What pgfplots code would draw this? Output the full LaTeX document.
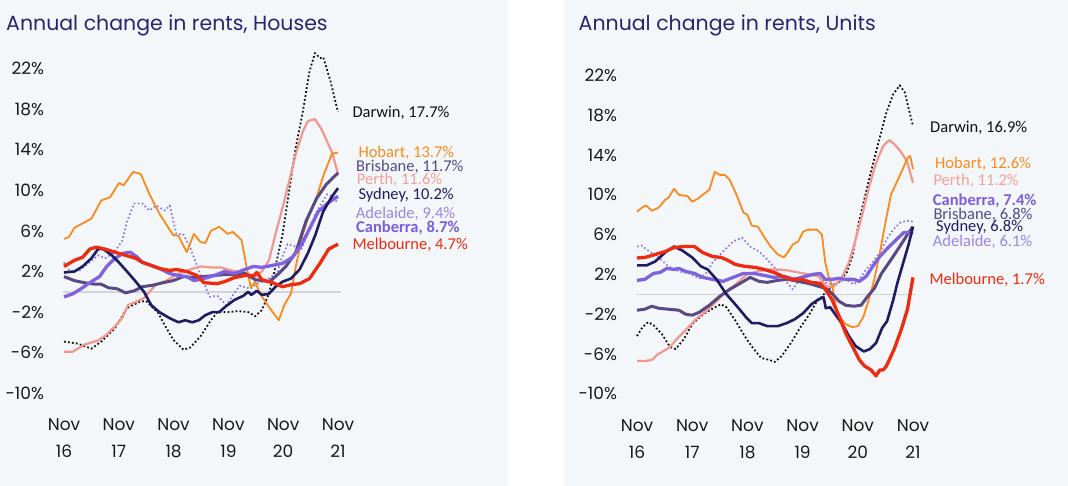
\documentclass[border=0pt]{standalone}
\usepackage{fontspec}
\setmainfont{Poppins}
\newfontfamily\lab{Carlito}
\usepackage{pgfplots}
\pgfplotsset{compat=1.18}

\definecolor{bg}{HTML}{F4F7F9}
\definecolor{titlec}{HTML}{2A2470}
\definecolor{syd}{HTML}{201C62}
\definecolor{mel}{HTML}{EE2A10}
\definecolor{bri}{HTML}{5A4A84}
\definecolor{ade}{HTML}{7F62DE}
\definecolor{can}{HTML}{8E78E8}
\definecolor{per}{HTML}{F2968E}
\definecolor{hob}{HTML}{FB8A1C}
\definecolor{dar}{HTML}{111111}
\definecolor{zero}{HTML}{D4D4D6}
\definecolor{adelab}{HTML}{9A86E8}
\definecolor{canlab}{HTML}{7B5EDC}
\definecolor{brilab}{HTML}{524C88}
\definecolor{perlab}{HTML}{F4A098}

\pgfplotsset{
  rent/.style={
    scale only axis, clip=false,
    xmin=0, xmax=5, ymin=-10, ymax=24,
    axis line style={draw=none},
    major tick style={draw=none},
    xtick={0,1,2,3,4,5},
    xticklabels={{Nov\\16},{Nov\\17},{Nov\\18},{Nov\\19},{Nov\\20},{Nov\\21}},
    ytick={-10,-6,-2,2,6,10,14,18,22},
    yticklabels={-10\%,-6\%,-2\%,2\%,6\%,10\%,14\%,18\%,22\%},
    ticklabel style={font=\fontsize{17}{27}\selectfont, text=black!90},
    xticklabel style={align=center, yshift=-22pt},
    yticklabel style={xshift=-16.5pt},
    every axis plot/.append style={line join=round, mark=none},
  },
  zeroline/.style={zero, line width=1.5pt},
  sydl/.style={syd, line width=2.6pt},
  mell/.style={mel, line width=3.3pt},
  bril/.style={bri, line width=3pt},
  adel/.style={ade, line width=3.3pt},
  canl/.style={can, line width=1.8pt, dash pattern=on 1.6pt off 2.4pt},
  perl/.style={per, line width=2.2pt},
  hobl/.style={hob, line width=1.8pt},
  darl/.style={dar, line width=1.8pt, dash pattern=on 1.8pt off 2.2pt},
}

\begin{document}
\begin{tikzpicture}[x=1pt,y=1pt]
\useasboundingbox (0pt,0pt) rectangle (1068pt,486pt);
\fill[white] (0pt,0pt) rectangle (1068pt,486pt);
\fill[bg] (0pt,0pt) rectangle (508pt,486pt);
\fill[bg] (564pt,0pt) rectangle (1068pt,486pt);

\node[anchor=base west, inner sep=0, font=\fontsize{20.5}{24}\selectfont, text=titlec]
  at (6pt,455.3pt) {Annual change in rents, Houses};
\node[anchor=base west, inner sep=0, font=\fontsize{20.5}{24}\selectfont, text=titlec]
  at (578.5pt,455.3pt) {Annual change in rents, Units};

% ---------------- Houses ----------------
\begin{axis}[rent, at={(64pt,92.6pt)}, anchor=south west, width=274pt, height=345.4pt]
\addplot[zeroline] coordinates {(-0.02,0) (5.05,0)};
% Darwin
\addplot[darl] coordinates {(0,-4.9)(0.25,-5.1)(0.5,-5.6)(0.68,-4.9)(0.93,-3.6)(1.15,-1.6)(1.37,-1.0)(1.5,-0.9)(1.72,-2.1)(1.85,-3.4)(1.99,-4.7)(2.18,-5.7)(2.30,-5.5)(2.49,-4.4)(2.68,-2.8)(2.80,-2.0)(2.99,-2.0)(3.18,-1.9)(3.36,-2.0)(3.49,-2.4)(3.61,-1.8)(3.74,-0.2)(3.86,2.5)(3.99,5.7)(4.11,10.0)(4.23,14.2)(4.36,17.8)(4.48,21.7)(4.58,23.5)(4.67,23.0)(4.73,23.1)(4.86,20.8)(5.0,17.7)};
% Canberra
\addplot[canl] coordinates {(0,2.9)(0.06,2.3)(0.12,2.0)(0.28,2.1)(0.45,2.8)(0.62,3.6)(0.75,3.3)(0.9,3.8)(1.06,5.0)(1.15,6.9)(1.28,8.7)(1.43,8.7)(1.56,8.0)(1.68,8.5)(1.84,8.0)(1.93,8.5)(2.05,5.7)(2.17,5.7)(2.3,4.4)(2.48,1.8)(2.66,-0.5)(2.8,-0.4)(2.96,-1.3)(3.1,-0.2)(3.21,0.6)(3.40,0.3)(3.53,0.8)(3.70,1.2)(3.90,1.9)(3.95,3.0)(4.08,4.7)(4.20,4.5)(4.33,4.2)(4.46,5.8)(4.60,7.8)(4.80,9.6)(4.90,9.4)(5.0,8.7)};
% Perth
\addplot[perl] coordinates {(0,-5.9)(0.16,-5.9)(0.37,-5.2)(0.62,-4.8)(0.78,-4.2)(0.93,-3.4)(1.06,-2.6)(1.17,-1.3)(1.31,-1.0)(1.46,-0.6)(1.56,0)(1.68,0.7)(1.87,1.1)(2.05,1.7)(2.30,2.2)(2.49,2.5)(2.68,2.4)(2.86,2.4)(3.05,2.1)(3.30,1.9)(3.49,1.5)(3.61,2.0)(3.74,3.1)(3.86,5.7)(3.99,8.3)(4.11,10.9)(4.23,13.6)(4.36,15.8)(4.45,16.8)(4.58,17.0)(4.70,16.0)(4.80,14.8)(4.90,13.6)(5.0,11.6)};
% Hobart
\addplot[hobl] coordinates {(0,5.2)(0.09,5.4)(0.19,6.3)(0.5,7.2)(0.68,9.0)(0.84,9.3)(1.0,10.7)(1.09,10.5)(1.26,11.8)(1.4,11.6)(1.56,9.6)(1.74,7.7)(1.99,5.6)(2.09,5.5)(2.24,3.9)(2.37,5.7)(2.49,4.9)(2.58,4.8)(2.68,6.0)(2.83,6.4)(2.99,5.7)(3.08,5.9)(3.24,5.1)(3.33,2.5)(3.41,0.4)(3.49,1.0)(3.58,-0.2)(3.74,-1.5)(3.92,-2.8)(4.02,-1.3)(4.14,-0.2)(4.23,2.5)(4.36,5.7)(4.48,7.7)(4.61,9.3)(4.73,11.4)(4.89,13.6)(5.0,13.7)};
% Brisbane
\addplot[bril] coordinates {(0,1.5)(0.19,1.1)(0.37,0.9)(0.56,0.75)(0.68,0.75)(0.81,0.4)(0.97,0.3)(1.12,-0.1)(1.28,0.1)(1.43,0.5)(1.62,0.65)(1.81,0.9)(1.99,1.1)(2.18,1.5)(2.37,1.4)(2.55,1.5)(2.74,1.6)(2.93,1.7)(3.11,1.7)(3.30,1.8)(3.49,1.2)(3.61,1.1)(3.74,1.0)(3.86,1.5)(4.05,2.5)(4.23,3.9)(4.42,7.0)(4.61,9.2)(4.79,10.6)(5.0,11.7)};
% Adelaide
\addplot[adel] coordinates {(0,-0.5)(0.16,-0.2)(0.31,0.3)(0.5,1.0)(0.65,1.5)(0.78,2.5)(0.93,3.3)(1.09,3.8)(1.21,3.9)(1.34,3.4)(1.43,2.9)(1.59,2.6)(1.74,2.3)(1.93,1.8)(2.09,1.6)(2.24,1.5)(2.37,1.1)(2.55,1.3)(2.74,1.6)(2.93,2.0)(3.11,1.8)(3.30,2.2)(3.46,2.5)(3.61,2.4)(3.80,2.6)(3.99,2.8)(4.17,3.4)(4.33,4.6)(4.48,6.2)(4.64,7.9)(4.83,8.8)(5.0,9.4)};
% Sydney
\addplot[sydl] coordinates {(0,1.9)(0.19,2.0)(0.34,2.5)(0.5,3.3)(0.62,4.2)(0.72,4.2)(0.87,3.6)(1.0,2.9)(1.15,2.0)(1.31,1.0)(1.46,0)(1.59,-1.3)(1.74,-2.0)(1.93,-2.6)(2.09,-3.0)(2.21,-2.8)(2.34,-3.0)(2.46,-2.8)(2.58,-2.3)(2.71,-2.0)(2.83,-2.0)(2.96,-1.4)(3.11,-0.8)(3.27,-0.4)(3.36,0)(3.42,-0.3)(3.52,0.1)(3.61,-0.3)(3.74,-0.2)(3.86,0.5)(3.99,1.0)(4.14,1.3)(4.30,2.2)(4.45,3.8)(4.58,5.5)(4.73,7.9)(4.88,9.3)(5.0,10.2)};
% Melbourne
\addplot[mell] coordinates {(0,2.5)(0.19,3.1)(0.34,3.4)(0.47,4.2)(0.59,4.4)(0.75,4.2)(0.93,3.9)(1.12,3.6)(1.31,3.3)(1.43,2.9)(1.59,2.6)(1.74,2.3)(1.93,2.1)(2.05,2.2)(2.24,2.0)(2.43,1.6)(2.55,0.9)(2.80,0.8)(2.93,1.0)(3.11,1.4)(3.30,1.6)(3.46,1.6)(3.52,1.9)(3.61,1.2)(3.80,0.9)(3.99,0.5)(4.14,0.7)(4.30,0.8)(4.48,1.3)(4.67,2.8)(4.83,4.2)(5.0,4.7)};
\end{axis}

% ---------------- Units ----------------
\begin{axis}[rent, at={(637pt,92.2pt)}, anchor=south west, width=276pt, height=338.3pt]
\addplot[zeroline] coordinates {(-0.02,0) (5.05,0)};
% Darwin
\addplot[darl] coordinates {(0,-4.2)(0.1,-3.3)(0.2,-2.8)(0.3,-3.1)(0.45,-4.0)(0.6,-5.3)(0.7,-5.5)(0.85,-4.5)(1.0,-3.0)(1.2,-2.0)(1.35,-1.5)(1.52,-1.0)(1.62,-1.3)(1.8,-2.8)(1.95,-4.2)(2.1,-5.4)(2.25,-6.4)(2.4,-6.6)(2.5,-6.8)(2.62,-6.2)(2.8,-4.8)(2.95,-3.4)(3.1,-2.2)(3.25,-0.8)(3.45,0.4)(3.65,1.2)(3.8,2.2)(3.9,3.8)(4.03,7.5)(4.15,10.3)(4.27,13.0)(4.40,15.8)(4.52,18.3)(4.64,20.1)(4.76,21.0)(4.85,20.3)(5.0,16.9)};
% Canberra
\addplot[canl] coordinates {(0,4.8)(0.08,4.9)(0.23,4.3)(0.39,3.7)(0.57,2.8)(0.76,2.3)(0.94,2.1)(1.13,1.6)(1.25,2.1)(1.37,3.2)(1.56,4.3)(1.74,5.3)(1.90,5.7)(2.05,4.8)(2.21,4.3)(2.36,3.5)(2.52,2.5)(2.67,1.5)(2.82,0.5)(2.95,1.5)(3.10,1.8)(3.26,2.1)(3.35,1.5)(3.44,1.1)(3.53,1.0)(3.66,1.2)(3.78,1.5)(3.93,1.0)(4.03,1.5)(4.15,2.5)(4.27,3.2)(4.40,4.2)(4.52,5.5)(4.64,6.5)(4.77,7.2)(4.89,7.4)(5.0,7.3)};
% Perth
\addplot[perl] coordinates {(0,-6.7)(0.14,-6.7)(0.27,-6.6)(0.36,-6.1)(0.51,-5.6)(0.6,-5.3)(0.70,-4.6)(0.88,-3.6)(1.07,-2.5)(1.25,-1.7)(1.44,-0.7)(1.62,0.3)(1.81,1.1)(1.99,2.0)(2.18,2.3)(2.36,2.5)(2.55,2.5)(2.73,2.4)(2.92,2.2)(3.10,2.0)(3.29,1.8)(3.41,0.9)(3.50,0.7)(3.59,0.9)(3.72,1.8)(3.84,3.2)(3.96,5.5)(4.09,8.2)(4.21,10.9)(4.33,13.2)(4.46,14.9)(4.57,15.5)(4.66,15.1)(4.77,14.4)(4.89,13.4)(5.0,11.2)};
% Hobart
\addplot[hobl] coordinates {(0,8.3)(0.11,8.8)(0.17,8.9)(0.27,8.4)(0.39,8.7)(0.51,9.5)(0.57,9.7)(0.67,10.6)(0.76,10.0)(0.85,9.9)(0.91,9.9)(1.0,9.3)(1.10,9.6)(1.19,10.0)(1.31,10.5)(1.41,12.3)(1.50,12.0)(1.59,12.0)(1.68,11.5)(1.81,9.9)(1.93,8.2)(2.0,8.0)(2.08,6.9)(2.19,6.8)(2.30,5.8)(2.42,4.8)(2.55,4.0)(2.66,3.7)(2.73,4.2)(2.82,5.0)(2.92,5.3)(3.01,6.3)(3.10,6.5)(3.26,6.5)(3.35,6.0)(3.41,3.2)(3.47,1.8)(3.54,0.8)(3.60,-1.2)(3.66,-2.2)(3.78,-3.0)(3.90,-3.3)(4.0,-3.2)(4.1,-2.3)(4.2,-0.5)(4.3,1.5)(4.4,4.2)(4.5,7.2)(4.6,10.0)(4.7,11.2)(4.8,12.4)(4.9,13.7)(4.95,13.9)(5.0,12.6)};
% Brisbane
\addplot[bril] coordinates {(0,-1.6)(0.14,-1.5)(0.27,-1.2)(0.39,-1.4)(0.57,-1.5)(0.76,-1.6)(0.88,-2.0)(1.0,-2.1)(1.13,-1.8)(1.31,-1.1)(1.5,-0.2)(1.68,0.5)(1.87,1.1)(2.05,1.7)(2.21,1.3)(2.36,1.2)(2.55,1.4)(2.73,1.5)(2.92,1.3)(3.10,1.1)(3.29,0.8)(3.41,0.6)(3.53,0.1)(3.66,-0.7)(3.78,-1.1)(3.93,-1.2)(4.06,-1.1)(4.18,-0.2)(4.30,0.6)(4.43,2.1)(4.58,3.3)(4.70,4.3)(4.83,5.4)(4.92,6.2)(5.0,6.8)};
% Adelaide
\addplot[adel] coordinates {(0,1.4)(0.14,1.5)(0.30,2.1)(0.42,2.2)(0.54,2.6)(0.67,2.5)(0.76,2.6)(0.88,2.3)(1.04,2.1)(1.19,1.7)(1.37,1.5)(1.56,1.3)(1.74,1.7)(1.93,2.1)(2.11,2.1)(2.30,1.9)(2.48,1.7)(2.67,1.8)(2.85,1.5)(3.04,1.8)(3.19,2.0)(3.32,2.1)(3.41,1.5)(3.53,1.5)(3.66,1.6)(3.78,1.5)(3.93,1.5)(4.03,1.3)(4.15,1.8)(4.27,2.8)(4.40,3.8)(4.55,4.7)(4.70,5.5)(4.83,6.2)(4.92,6.2)(5.0,6.1)};
% Sydney
\addplot[sydl] coordinates {(0,2.9)(0.17,2.9)(0.33,3.3)(0.51,4.2)(0.67,4.8)(0.82,4.4)(1.0,3.7)(1.16,2.8)(1.28,2.5)(1.44,1.5)(1.62,0)(1.81,-1.2)(1.99,-2.4)(2.08,-2.9)(2.21,-2.9)(2.36,-3.2)(2.55,-3.2)(2.71,-2.9)(2.86,-2.5)(3.01,-1.9)(3.16,-1.0)(3.29,-0.5)(3.38,-0.3)(3.42,-1.4)(3.50,-1.3)(3.59,-2.0)(3.72,-3.0)(3.84,-4.2)(3.96,-5.2)(4.11,-5.75)(4.22,-5.5)(4.33,-4.9)(4.44,-3.4)(4.53,-2.7)(4.64,-0.6)(4.72,1.2)(4.83,3.3)(4.92,5.0)(5.0,6.8)};
% Melbourne
\addplot[mell] coordinates {(0,3.65)(0.14,3.7)(0.33,4.0)(0.51,4.3)(0.67,4.7)(0.85,4.8)(1.04,4.8)(1.19,4.2)(1.37,3.8)(1.53,3.7)(1.65,3.4)(1.78,3.0)(1.96,2.8)(2.15,2.7)(2.30,2.5)(2.48,2.2)(2.64,1.8)(2.79,1.5)(2.98,1.5)(3.16,1.2)(3.32,1.1)(3.41,0.5)(3.53,-0.5)(3.66,-2.2)(3.78,-3.9)(3.90,-5.2)(4.03,-6.6)(4.12,-7.2)(4.24,-7.6)(4.33,-8.2)(4.40,-7.6)(4.46,-7.6)(4.52,-7.2)(4.66,-5.5)(4.79,-3.5)(4.90,-1.5)(5.0,1.7)};
\end{axis}

% ---------------- end labels ----------------
\tikzset{lbl/.style={anchor=west, inner sep=0, font=\lab\fontsize{16.5}{18}\selectfont}}
\node[lbl, text=dar]    at (352.3pt,372.7pt) {Darwin, 17.7\%};
\node[lbl, text=hob]    at (358.3pt,332.7pt) {Hobart, 13.7\%};
\node[lbl, text=brilab] at (356pt,318.7pt)   {Brisbane, 11.7\%};
\node[lbl, text=perlab] at (356.7pt,306pt)   {Perth, 11.6\%};
\node[lbl, text=syd]    at (358.3pt,291pt)   {Sydney, 10.2\%};
\node[lbl, text=adelab] at (355.7pt,272pt)   {Adelaide, 9.4\%};
\node[lbl, text=canlab, font=\lab\bfseries\fontsize{16.5}{18}\selectfont] at (356pt,257.7pt) {Canberra, 8.7\%};
\node[lbl, text=mel]    at (352.3pt,241pt)   {Melbourne, 4.7\%};

\node[lbl, text=dar]    at (930pt,357.7pt)   {Darwin, 16.9\%};
\node[lbl, text=hob]    at (935pt,321.7pt)   {Hobart, 12.6\%};
\node[lbl, text=perlab] at (933.3pt,305pt)   {Perth, 11.2\%};
\node[lbl, text=canlab, font=\lab\bfseries\fontsize{16.5}{18}\selectfont] at (932.7pt,285.3pt) {Canberra, 7.4\%};
\node[lbl, text=brilab] at (933.3pt,271pt)   {Brisbane, 6.8\%};
\node[lbl, text=syd]    at (936pt,259.3pt)   {Sydney, 6.8\%};
\node[lbl, text=adelab] at (932.7pt,244.3pt) {Adelaide, 6.1\%};
\node[lbl, text=mel]    at (929.3pt,206pt)   {Melbourne, 1.7\%};
\end{tikzpicture}
\end{document}
